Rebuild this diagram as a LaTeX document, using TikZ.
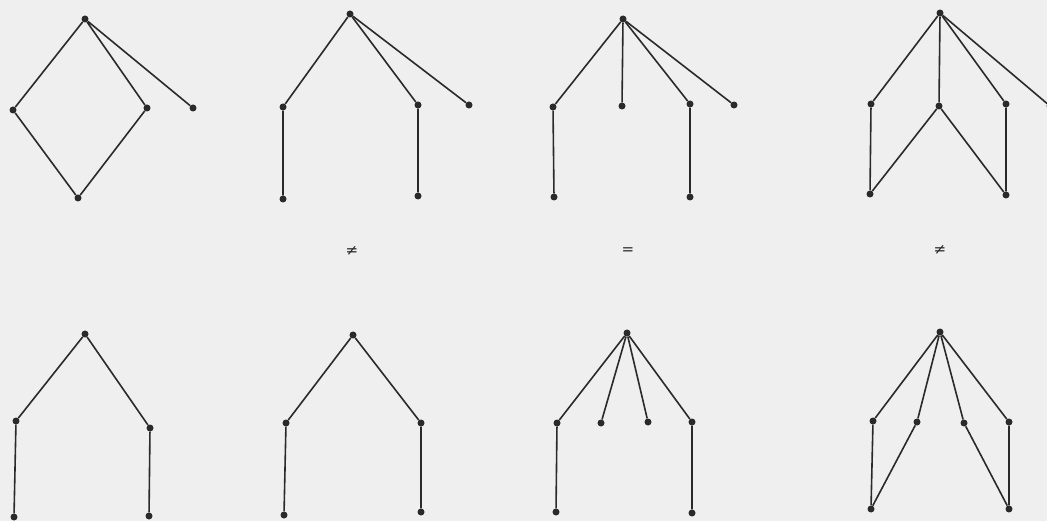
\documentclass[tikz,border=0pt]{standalone}
\usepackage{fontspec}
\newfontfamily\relfont{DejaVu Sans}
\definecolor{bg}{HTML}{EFEFEF}
\definecolor{ink}{HTML}{2A2A2A}
\tikzset{
  v/.style={circle,fill=ink,inner sep=0pt,minimum size=7pt},
  e/.style={draw=ink,line width=1.6pt},
  rel/.style={font=\relfont\fontsize{15}{18}\selectfont,text=ink}
}
\begin{document}
\begin{tikzpicture}[x=1pt,y=-1pt]
\useasboundingbox (0,0) rectangle (1047,521);
\fill[bg] (0,0) rectangle (1047,521);
\clip (0,0) rectangle (1047,521);
% ---- top row ----
% panel 1
\node[v] (a1t) at (85,19) {};
\node[v] (a1l) at (13,110) {};
\node[v] (a1r) at (147,108) {};
\node[v] (a1b) at (78,198) {};
\node[v] (a1p) at (193,108) {};
\draw[e] (a1t) -- (a1l) -- (a1b) -- (a1r) -- (a1t) -- (a1p);
% panel 2
\node[v] (a2t) at (350,14) {};
\node[v] (a2l) at (283,107) {};
\node[v] (a2lb) at (283,199) {};
\node[v] (a2r) at (418,105) {};
\node[v] (a2rb) at (418,196) {};
\node[v] (a2p) at (469,105) {};
\draw[e] (a2lb) -- (a2l) -- (a2t) -- (a2r) -- (a2rb);
\draw[e] (a2t) -- (a2p);
% panel 3
\node[v] (a3t) at (623,19) {};
\node[v] (a3l) at (553,107) {};
\node[v] (a3lb) at (554,197) {};
\node[v] (a3c) at (622,106) {};
\node[v] (a3r) at (690,104) {};
\node[v] (a3rb) at (690,197) {};
\node[v] (a3p) at (734,105) {};
\draw[e] (a3lb) -- (a3l) -- (a3t) -- (a3r) -- (a3rb);
\draw[e] (a3t) -- (a3c);
\draw[e] (a3t) -- (a3p);
% panel 4
\node[v] (a4t) at (940,13) {};
\node[v] (a4l) at (871,104) {};
\node[v] (a4lb) at (870,194) {};
\node[v] (a4c) at (939,106) {};
\node[v] (a4r) at (1006,104) {};
\node[v] (a4rb) at (1006,195) {};
\node[v] (a4p) at (1050,106) {};
\draw[e] (a4lb) -- (a4l) -- (a4t) -- (a4r) -- (a4rb) -- (a4c) -- (a4lb);
\draw[e] (a4t) -- (a4c);
\draw[e] (a4t) -- (a4p);
% ---- relations ----
\node[rel] (r1) at (352,251) {≠};
\node[rel] (r2) at (628,251) {=};
\node[rel] (r3) at (940,250) {≠};
% ---- bottom row ----
% panel 1
\node[v] (b1t) at (85,334) {};
\node[v] (b1l) at (16,421) {};
\node[v] (b1lb) at (14,517) {};
\node[v] (b1r) at (150,428) {};
\node[v] (b1rb) at (149,516) {};
\draw[e] (b1lb) -- (b1l) -- (b1t) -- (b1r) -- (b1rb);
% panel 2
\node[v] (b2t) at (353,335) {};
\node[v] (b2l) at (286,423) {};
\node[v] (b2lb) at (284,515) {};
\node[v] (b2r) at (421,423) {};
\node[v] (b2rb) at (421,512) {};
\draw[e] (b2lb) -- (b2l) -- (b2t) -- (b2r) -- (b2rb);
% panel 3
\node[v] (b3t) at (627,333) {};
\node[v] (b3l) at (557,423) {};
\node[v] (b3lb) at (556,512) {};
\node[v] (b3il) at (601,423) {};
\node[v] (b3ir) at (648,422) {};
\node[v] (b3r) at (692,422) {};
\node[v] (b3rb) at (692,513) {};
\draw[e] (b3lb) -- (b3l) -- (b3t) -- (b3r) -- (b3rb);
\draw[e] (b3t) -- (b3il);
\draw[e] (b3t) -- (b3ir);
% panel 4
\node[v] (b4t) at (940,332) {};
\node[v] (b4l) at (873,421) {};
\node[v] (b4il) at (917,422) {};
\node[v] (b4ir) at (964,423) {};
\node[v] (b4r) at (1009,422) {};
\node[v] (b4lb) at (871,509) {};
\node[v] (b4rb) at (1009,509) {};
\draw[e] (b4lb) -- (b4l) -- (b4t) -- (b4r) -- (b4rb) -- (b4ir) -- (b4t) -- (b4il) -- (b4lb);
\end{tikzpicture}
\end{document}
